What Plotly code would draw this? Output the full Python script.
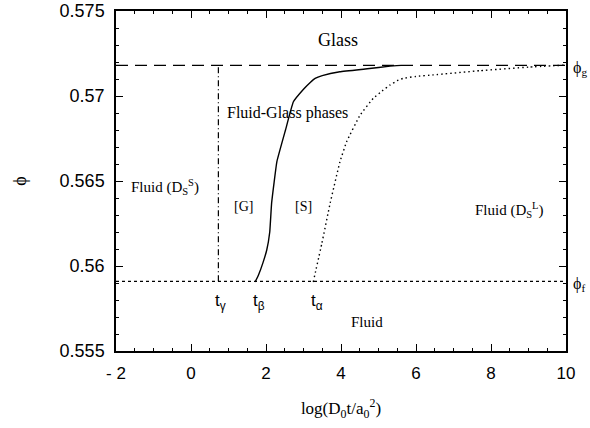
import plotly.graph_objects as go

# Data
phi_g = 0.5718
phi_f = 0.5591
t_gamma = 0.73
x_min, x_max = -2, 10

beta_x = [1.71, 1.80, 1.92, 2.02, 2.10, 2.15, 2.29, 2.52, 2.73, 3.00, 3.18, 3.31, 3.50, 3.97, 4.70, 5.31, 5.60]
beta_y = [0.55906, 0.55947, 0.5602, 0.56094, 0.5620, 0.56371, 0.56614, 0.5680, 0.56966, 0.5704, 0.5708, 0.57104, 0.57120, 0.57143, 0.5716, 0.57176, 0.5718]

alpha_x = [3.26, 3.49, 3.71, 3.97, 4.15, 4.51, 4.86, 5.10, 5.31, 5.50, 5.66, 6.00, 6.46, 7.71, 9.0, 10.0]
alpha_y = [0.55906, 0.56134, 0.56369, 0.56612, 0.56731, 0.56888, 0.56986, 0.5703, 0.57065, 0.5709, 0.57104, 0.57115, 0.57124, 0.57149, 0.5717, 0.57182]

x_ticks = [-2, 0, 2, 4, 6, 8, 10]
x_tick_labels = ["- 2", "0", "2", "4", "6", "8", "10"]
y_ticks = [0.555, 0.56, 0.565, 0.57, 0.575]
y_tick_labels = ["0.555", "0.56", "0.565", "0.57", "0.575"]

serif = "Liberation Serif, Times New Roman, serif"
sans = "Liberation Sans, Arial, sans-serif"

fig = go.Figure()

fig.add_trace(go.Scatter(x=[x_min, x_max], y=[phi_g, phi_g], mode="lines",
                         line=dict(color="black", width=1.2, dash="12px,7px"), showlegend=False))
fig.add_trace(go.Scatter(x=[x_min, x_max], y=[phi_f, phi_f], mode="lines",
                         line=dict(color="black", width=1.2, dash="3px,3px"), showlegend=False))
fig.add_trace(go.Scatter(x=[t_gamma, t_gamma], y=[phi_f, phi_g], mode="lines",
                         line=dict(color="black", width=1.2, dash="6px,3px,1px,3px"), showlegend=False))
fig.add_trace(go.Scatter(x=beta_x, y=beta_y, mode="lines",
                         line=dict(color="black", width=1.4, shape="spline", smoothing=0.3), showlegend=False))
fig.add_trace(go.Scatter(x=alpha_x, y=alpha_y, mode="lines",
                         line=dict(color="black", width=1.4, dash="1.5px,3px", shape="spline", smoothing=0.3),
                         showlegend=False))

ann = []
def add(text, x, y, size=15, font=serif, xref="x", yref="y", xanchor="center"):
    ann.append(dict(text=text, x=x, y=y, xref=xref, yref=yref, showarrow=False,
                    font=dict(family=font, size=size, color="black"), xanchor=xanchor, yanchor="middle"))

add("Glass", 3.92, 0.57329, size=18)
add("Fluid-Glass phases", 2.56, 0.5690, size=16)
add("Fluid (D<sub>S</sub><sup>S</sup>)", -0.69, 0.56465, size=15)
add("[G]", 1.41, 0.5635, size=14)
add("[S]", 2.99, 0.5635, size=14)
add("Fluid (D<sub>S</sub><sup>L</sup>)", 8.48, 0.56330, size=15)
add("t<sub>γ</sub>", 0.78, 0.55788, size=17, font=sans)
add("t<sub>β</sub>", 1.81, 0.55788, size=17, font=sans)
add("t<sub>α</sub>", 3.36, 0.55788, size=17, font=sans)
add("Fluid", 4.69, 0.55671, size=15)
add("ϕ<sub>g</sub>", 1.01, phi_g - 0.0002, size=16, font=serif, xref="paper", xanchor="left")
add("ϕ<sub>f</sub>", 1.01, phi_f - 0.0002, size=16, font=serif, xref="paper", xanchor="left")

fig.update_layout(
    width=590, height=428,
    margin=dict(l=116, r=24, t=11, b=77, autoexpand=False),
    paper_bgcolor="white", plot_bgcolor="white",
    annotations=ann,
    xaxis=dict(range=[x_min, x_max], tickmode="array", tickvals=x_ticks, ticktext=x_tick_labels,
               ticks="inside", ticklen=7, tickwidth=1, tickcolor="black",
               minor=dict(dtick=0.5, ticks="inside", ticklen=3, tickcolor="black"),
               showline=True, linecolor="black", linewidth=1.5, mirror="allticks",
               showgrid=False, zeroline=False, automargin=False, ticklabelstandoff=6,
               tickfont=dict(family=sans, size=17, color="black"),
               title=dict(text="log(D<sub>0</sub>t/a<sub>0</sub><sup>2</sup>)",
                          font=dict(family=serif, size=17, color="black"), standoff=20)),
    yaxis=dict(range=[0.555, 0.575], tickmode="array", tickvals=y_ticks, ticktext=y_tick_labels,
               ticks="inside", ticklen=7, tickwidth=1, tickcolor="black",
               minor=dict(dtick=0.001, ticks="inside", ticklen=3, tickcolor="black"),
               showline=True, linecolor="black", linewidth=1.5, mirror="allticks",
               showgrid=False, zeroline=False, automargin=False, ticklabelstandoff=6,
               tickfont=dict(family=sans, size=18, color="black"),
               title=dict(text="ϕ", font=dict(family=serif, size=18, color="black"), standoff=28)),
)

fig.write_html("out.html", config={"displayModeBar": False},
               post_script="document.body.style.margin='0';document.body.style.overflow='hidden';")
